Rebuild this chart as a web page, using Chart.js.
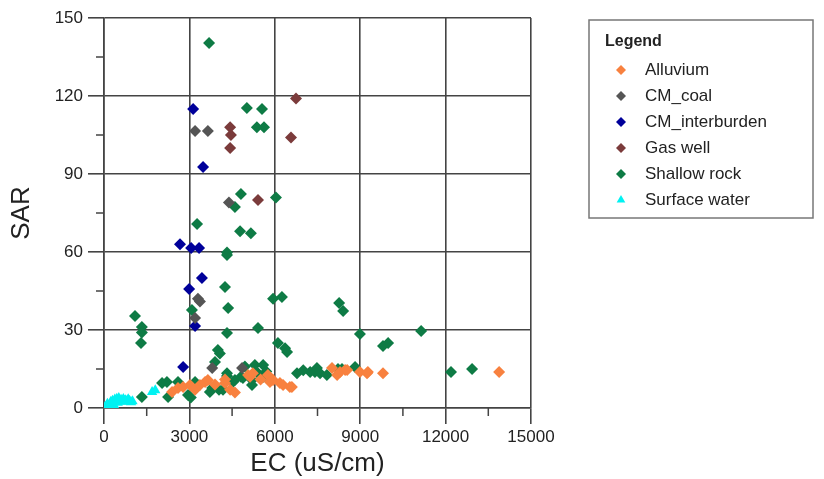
<!DOCTYPE html>
<html>
<head>
<meta charset="utf-8">
<script src="https://cdn.jsdelivr.net/npm/chart.js@4.4.1/dist/chart.umd.min.js"></script>
<style>
  html, body { margin: 0; padding: 0; background: #fff; }
</style>
</head>
<body>
<canvas id="sarChart" width="824" height="479"></canvas>
<script>
// EC (uS/cm) and SAR for each water source
const alluviumEC  = [2390, 2600, 2780, 3020, 3200, 3370, 3550, 3650, 3900, 4250, 4250, 4430, 4600, 5060, 5130, 5230, 5500, 5760, 5830, 5940, 6180, 6290, 6530, 6600, 8010, 8190, 8290, 8470, 8540, 8990, 9240, 9270, 9800, 13880];
const alluviumSAR = [6.2, 7.7, 8.1, 8.8, 7, 8.8, 10, 10.8, 9, 9.6, 11, 7, 6, 12.7, 12, 13.4, 11, 12.7, 10, 10.8, 9.6, 8.8, 8.1, 8.1, 15.4, 12.7, 13.8, 14.6, 14.6, 13.8, 13.4, 13.8, 13.4, 13.8];

const coalEC  = [3200, 3650, 4390, 3300, 3370, 3200, 3800, 4850];
const coalSAR = [106.5, 106.5, 79, 42, 41, 34.6, 15.4, 15.4];

const interburdenEC  = [3130, 3480, 2670, 3060, 3340, 3440, 2990, 3200, 2780];
const interburdenSAR = [115, 92.7, 63, 61.5, 61.5, 50, 45.8, 31.5, 15.8];

const gasWellEC  = [4430, 4460, 4430, 5410, 6570, 6745];
const gasWellSAR = [108, 105, 100, 80, 104, 119];

const shallowEC  = [3690, 5020, 5550, 5370, 5620, 4810, 4600, 6040, 3270, 4780, 5160, 4320, 4320, 4250, 4360, 5940, 6250, 3090, 4320, 5410, 6110, 6360, 4000, 1090, 1330, 1330, 1300, 4070, 3900, 1330, 2040, 2210, 2250, 2950, 3200, 3800, 4040, 4320, 4320, 4530, 4810, 5200, 5300, 5590, 5410, 5200, 4180, 6430, 6780, 7240, 7410, 7590, 7830, 8220, 7480, 8260, 8400, 8990, 9800, 9980, 11140, 12190, 12930, 8360, 8820, 4880, 3720, 3050, 2600, 4600, 5700, 7000, 4950, 5600];
const shallowSAR = [140.4, 115.4, 115, 108, 108, 82.3, 77.3, 81, 70.8, 68, 67.2, 59.8, 58.8, 46.5, 38.5, 42, 42.7, 37.7, 28.8, 30.8, 25, 23, 22.3, 35.4, 31.2, 29, 25, 21, 17.7, 4.2, 9.6, 10, 4.2, 5, 10, 7.7, 7, 12.3, 13.4, 10, 12, 10.8, 16.5, 16.5, 13.4, 8.8, 7, 21.5, 13.4, 13.8, 13.8, 13.4, 12.7, 15, 15.4, 40.4, 37.3, 28.5, 23.8, 25, 29.6, 13.8, 15, 15, 15.8, 11.5, 6.2, 4, 10, 10.8, 14, 14.5, 16, 12];

const surfaceEC  = [30, 80, 120, 150, 200, 240, 280, 300, 350, 380, 420, 450, 480, 520, 550, 600, 640, 680, 720, 760, 800, 850, 900, 950, 1000, 1690, 1800];
const surfaceSAR = [0.3, 0.8, 1.6, 0.5, 1.2, 2.4, 1.5, 2.8, 1.2, 3.3, 2.5, 3.6, 2, 3.8, 2.6, 3.2, 2.4, 3.5, 2.8, 3, 2.5, 3.4, 2.8, 2.2, 2.6, 6.2, 6.8];

const xTicks = [0, 3000, 6000, 9000, 12000, 15000];
const yTicks = [0, 30, 60, 90, 120, 150];
const xMinor = [1500, 4500, 7500, 10500, 13500];
const yMinor = [15, 45, 75, 105, 135];

function pts(xs, ys) {
    return xs.map((x, i) => ({ x: x, y: ys[i] }));
}

function series(label, xs, ys, color, style) {
    return {
        label: label,
        data: pts(xs, ys),
        backgroundColor: color,
        borderColor: color,
        borderWidth: 0,
        pointStyle: style || 'rectRot',
        pointRadius: 6
    };
}

const axisColor = '#444';
const textColor = '#222';
const font = 'Liberation Sans, Arial, sans-serif';

// minor tick marks outside the axes
const minorTicks = {
    id: 'minorTicks',
    afterDraw(chart) {
        const ctx = chart.ctx;
        const xs = chart.scales.x, ys = chart.scales.y;
        const area = chart.chartArea;
        ctx.save();
        ctx.strokeStyle = axisColor;
        ctx.lineWidth = 1.5;
        ctx.beginPath();
        xMinor.forEach(v => {
            const px = xs.getPixelForValue(v);
            ctx.moveTo(px, area.bottom);
            ctx.lineTo(px, area.bottom + 8);
        });
        yMinor.forEach(v => {
            const py = ys.getPixelForValue(v);
            ctx.moveTo(area.left - 8, py);
            ctx.lineTo(area.left, py);
        });
        ctx.stroke();
        ctx.restore();
    }
};

// boxed legend on the right
const legendBox = {
    id: 'legendBox',
    afterDraw(chart) {
        const ctx = chart.ctx;
        ctx.save();
        ctx.strokeStyle = '#777';
        ctx.lineWidth = 1.5;
        ctx.strokeRect(589, 20, 224, 198);
        ctx.fillStyle = textColor;
        ctx.textBaseline = 'middle';
        ctx.font = 'bold 16px ' + font;
        ctx.fillText('Legend', 605, 42);
        ctx.font = '17px ' + font;
        chart.data.datasets.forEach((ds, i) => {
            const y = 70 + i * 26;
            ctx.fillStyle = ds.backgroundColor;
            ctx.strokeStyle = ds.backgroundColor;
            Chart.helpers.drawPoint(ctx, { pointStyle: ds.pointStyle, radius: 5, borderWidth: 0 }, 621, y);
            ctx.fillStyle = textColor;
            ctx.fillText(ds.label, 645, y);
        });
        ctx.restore();
    }
};

new Chart(document.getElementById('sarChart'), {
    type: 'scatter',
    data: {
        datasets: [
            series('Alluvium', alluviumEC, alluviumSAR, '#F8813F'),
            series('CM_coal', coalEC, coalSAR, '#555555'),
            series('CM_interburden', interburdenEC, interburdenSAR, '#00009A'),
            series('Gas well', gasWellEC, gasWellSAR, '#7B3B3B'),
            series('Shallow rock', shallowEC, shallowSAR, '#0E7B45'),
            series('Surface water', surfaceEC, surfaceSAR, '#00F2F2', 'triangle')
        ]
    },
    options: {
        responsive: false,
        animation: false,
        events: [],
        layout: { padding: { left: 0, right: 293, top: 18, bottom: 0 } },
        plugins: {
            legend: { display: false },
            tooltip: { enabled: false }
        },
        scales: {
            x: {
                type: 'linear',
                min: 0,
                max: 15000,
                afterBuildTicks: s => { s.ticks = xTicks.map(v => ({ value: v })); },
                afterFit: s => { s.height = 71; },
                ticks: { callback: v => String(v), color: textColor, font: { family: font, size: 17 }, padding: 3 },
                grid: { color: axisColor, lineWidth: 1.6, tickLength: 16, tickColor: axisColor },
                border: { color: axisColor, width: 1.6 },
                title: { display: true, text: 'EC (uS/cm)', color: textColor, font: { family: font, size: 26 }, padding: 0 }
            },
            y: {
                min: 0,
                max: 150,
                afterBuildTicks: s => { s.ticks = yTicks.map(v => ({ value: v })); },
                afterFit: s => { s.width = 104; },
                ticks: { callback: v => String(v), color: textColor, font: { family: font, size: 17 }, padding: 5 },
                grid: { color: axisColor, lineWidth: 1.6, tickLength: 16, tickColor: axisColor },
                border: { color: axisColor, width: 1.6 },
                title: { display: true, text: 'SAR', color: textColor, font: { family: font, size: 26 }, padding: { top: 6 } }
            }
        }
    },
    plugins: [minorTicks, legendBox]
});
</script>
</body>
</html>
